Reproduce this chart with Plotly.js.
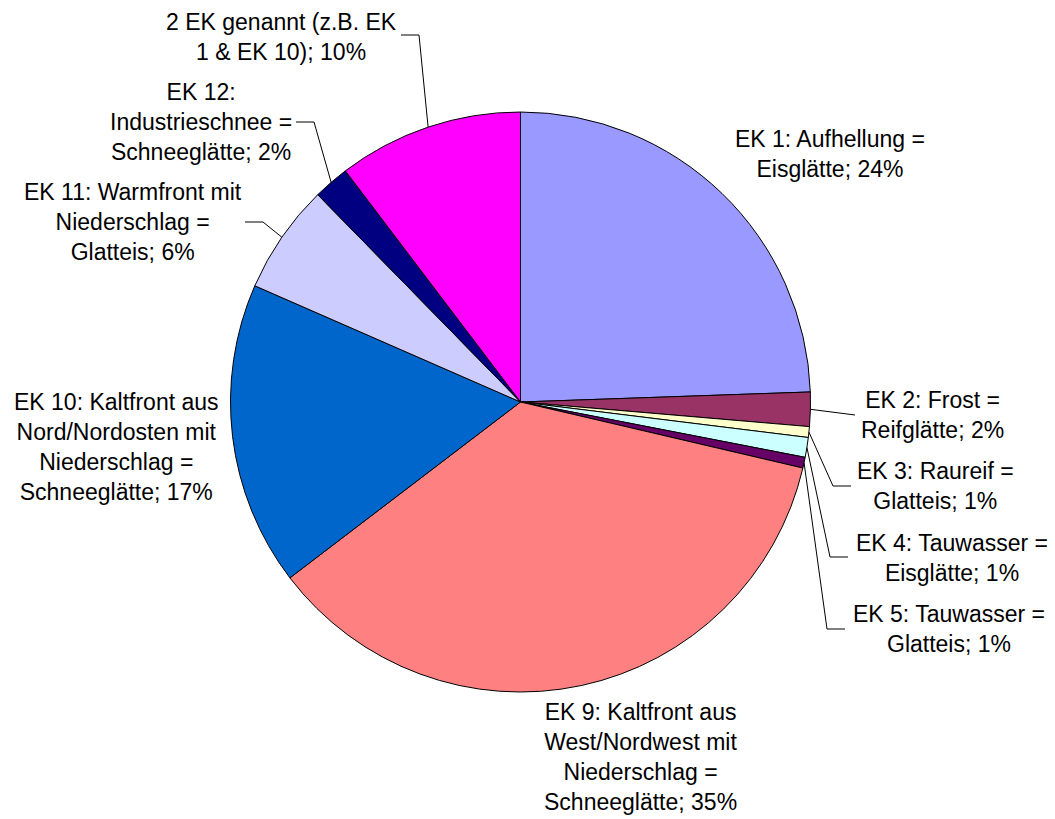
<!DOCTYPE html>
<html><head><meta charset="utf-8">
<script src="https://cdn.plot.ly/plotly-3.0.1.min.js"></script>
<style>html,body{margin:0;padding:0;background:#fff}#chart{width:1055px;height:819px}</style>
</head><body><div id="chart"></div>
<script>
const categories = [
  "EK 1: Aufhellung =<br>Eisglätte",
  "EK 2: Frost =<br>Reifglätte",
  "EK 3: Raureif =<br>Glatteis",
  "EK 4: Tauwasser =<br>Eisglätte",
  "EK 5: Tauwasser =<br>Glatteis",
  "EK 9: Kaltfront aus<br>West/Nordwest mit<br>Niederschlag =<br>Schneeglätte",
  "EK 10: Kaltfront aus<br>Nord/Nordosten mit<br>Niederschlag =<br>Schneeglätte",
  "EK 11: Warmfront mit<br>Niederschlag =<br>Glatteis",
  "EK 12:<br>Industrieschnee =<br>Schneeglätte",
  "2 EK genannt (z.B. EK<br>1 & EK 10)"
];
const values = [24.4, 1.9, 0.6, 1.1, 0.6, 35.9, 16.9, 6.1, 2.0, 10.3];
const percentLabels = ["24%", "2%", "1%", "1%", "1%", "35%", "17%", "6%", "2%", "10%"];
const colors = ["#9999FF", "#993366", "#FFFFCC", "#CCFFFF", "#660066", "#FF8080", "#0066CC", "#CCCCFF", "#000080", "#FF00FF"];

// layout (pixel positions of label centers and leader-line elbows/ends)
const W = 1055, H = 819;
const cx = 520.5, cy = 402, R = 290;
const labelPos = [
  [830, 154], [932, 415], [935, 486], [952, 558], [949, 629],
  [640, 757], [117, 447], [133, 222], [201, 122], [281, 37]
];
const leader = [
  null,
  [[855, 415]],
  [[833, 486], [851, 486]],
  [[830, 557], [848, 557]],
  [[827, 629], [845, 629]],
  null, null,
  [[263, 222], [245, 222]],
  [[314, 122], [296, 122]],
  [[419, 35], [401, 35]]
];

const px = x => x / W, py = y => 1 - y / H;
const total = values.reduce((a, b) => a + b, 0);
let cum = 0;
const shapes = [], annotations = [];
values.forEach((v, i) => {
  const mid = (cum + v / 2) / total * 2 * Math.PI;
  cum += v;
  const sx = cx + R * Math.sin(mid), sy = cy - R * Math.cos(mid);
  if (leader[i]) {
    let d = `M ${px(sx)} ${py(sy)}`;
    leader[i].forEach(p => { d += ` L ${px(p[0])} ${py(p[1])}`; });
    shapes.push({type: 'path', xref: 'paper', yref: 'paper', path: d,
      line: {color: '#000', width: 1}});
  }
  annotations.push({
    xref: 'paper', yref: 'paper', x: px(labelPos[i][0]), y: py(labelPos[i][1]),
    xanchor: 'center', yanchor: 'middle', align: 'center', showarrow: false,
    text: categories[i] + '; ' + percentLabels[i],
    font: {family: 'Liberation Sans, Arial, sans-serif', size: 23, color: '#000'}
  });
});

const data = [{
  type: 'pie', labels: categories, values: values, sort: false,
  direction: 'clockwise', rotation: 0, textinfo: 'none', hoverinfo: 'label+percent',
  marker: {colors: colors, line: {color: '#000', width: 1}},
  domain: {x: [px(cx - R), px(cx + R)], y: [py(cy + R), py(cy - R)]},
  showlegend: false
}];
const layout = {
  width: W, height: H, margin: {l: 0, r: 0, t: 0, b: 0},
  paper_bgcolor: '#fff', showlegend: false, shapes: shapes, annotations: annotations
};
Plotly.newPlot('chart', data, layout, {displayModeBar: false, staticPlot: true});
</script></body></html>
